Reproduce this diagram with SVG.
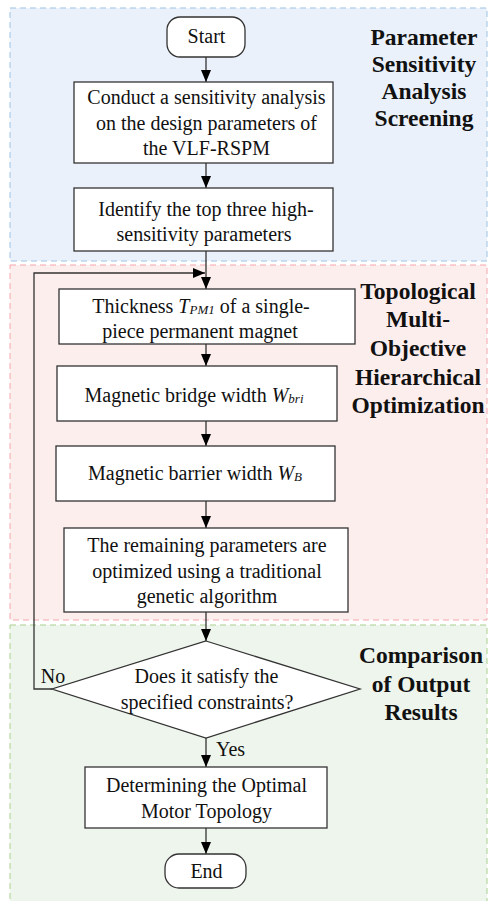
<svg xmlns="http://www.w3.org/2000/svg" width="489" height="901" viewBox="0 0 489 901">
<defs>
<style>
.t{font-family:'Liberation Serif','DejaVu Serif',serif;font-size:20px;fill:#111;text-anchor:middle}
.h{font-family:'Liberation Serif','DejaVu Serif',serif;font-size:23.5px;font-weight:bold;fill:#111;text-anchor:middle}
.box{fill:#fff;stroke:#333;stroke-width:1.3}
.c{fill:none;stroke:#333;stroke-width:1.3}
.i{font-style:italic}
.s{font-style:italic;font-size:13px}
</style>
<marker id="ah" markerWidth="12" markerHeight="10" refX="12" refY="5" orient="auto" markerUnits="userSpaceOnUse">
<path d="M0,0 L12,5 L0,10 Z" fill="#000"/>
</marker>
</defs>
<g id="panels">
<rect x="10" y="8" width="477" height="253" fill="#eaf1fa" stroke="#9dc3e6" stroke-width="1" stroke-dasharray="6,4"/>
<rect x="10" y="265" width="477" height="355" fill="#fdeeee" stroke="#f4a6ae" stroke-width="1" stroke-dasharray="6,4"/>
<rect x="10" y="625" width="477" height="285" fill="#eef5ec" stroke="#a9d18e" stroke-width="1" stroke-dasharray="6,4"/>
<text class="h" x="424" y="45">Parameter</text>
<text class="h" x="424" y="72">Sensitivity</text>
<text class="h" x="424" y="99">Analysis</text>
<text class="h" x="424" y="126">Screening</text>
<text class="h" x="418" y="299">Topological</text>
<text class="h" x="418" y="327">Multi-</text>
<text class="h" x="418" y="356">Objective</text>
<text class="h" x="418" y="385">Hierarchical</text>
<text class="h" x="418" y="413">Optimization</text>
<text class="h" x="421" y="663">Comparison</text>
<text class="h" x="421" y="692">of Output</text>
<text class="h" x="421" y="720">Results</text>
</g>
<g id="connectors">
<path class="c" d="M206 57 V82" marker-end="url(#ah)"/>
<path class="c" d="M206 163 V188" marker-end="url(#ah)"/>
<path class="c" d="M206 251 V289" marker-end="url(#ah)"/>
<path class="c" d="M206 344 V366" marker-end="url(#ah)"/>
<path class="c" d="M206 421 V446" marker-end="url(#ah)"/>
<path class="c" d="M206 501 V528" marker-end="url(#ah)"/>
<path class="c" d="M206 612 V641" marker-end="url(#ah)"/>
<path class="c" d="M206 738 V767" marker-end="url(#ah)"/>
<path class="c" d="M206 828 V854" marker-end="url(#ah)"/>
<path class="c" d="M52 689 H34 V273 H205" marker-end="url(#ah)"/>
<text class="t" x="53" y="683">No</text>
<text class="t" x="216" y="756" style="text-anchor:start">Yes</text>
</g>
<g id="start">
<rect class="box" x="167" y="17" width="78" height="40" rx="13"/>
<text class="t" x="206.5" y="43">Start</text>
</g>
<g id="sensitivity">
<rect class="box" x="74" y="82" width="259" height="81"/>
<text class="t" x="206.5" y="104">Conduct a sensitivity analysis</text>
<text class="t" x="206.5" y="130">on the design parameters of</text>
<text class="t" x="206.5" y="155">the VLF-RSPM</text>
</g>
<g id="identify">
<rect class="box" x="74" y="188" width="259" height="63"/>
<text class="t" x="206" y="216">Identify the top three high-</text>
<text class="t" x="204" y="241">sensitivity parameters</text>
</g>
<g id="thickness">
<rect class="box" x="59" y="289" width="296" height="55"/>
<text class="t" x="201" y="313">Thickness <tspan class="i">T</tspan><tspan class="s" dy="1">PM1</tspan><tspan dy="-1"> of a single-</tspan></text>
<text class="t" x="200" y="338">piece permanent magnet</text>
</g>
<g id="bridge">
<rect class="box" x="57" y="366" width="280" height="55"/>
<text class="t" x="194" y="402">Magnetic bridge width <tspan class="i">W</tspan><tspan class="s" dy="1">bri</tspan></text>
</g>
<g id="barrier">
<rect class="box" x="56" y="446" width="279" height="55"/>
<text class="t" x="195" y="480">Magnetic barrier width <tspan class="i">W</tspan><tspan class="s" dy="1">B</tspan></text>
</g>
<g id="remaining">
<rect class="box" x="64" y="528" width="284" height="84"/>
<text class="t" x="207" y="552">The remaining parameters are</text>
<text class="t" x="207" y="578">optimized using a traditional</text>
<text class="t" x="207" y="603">genetic algorithm</text>
</g>
<g id="decision">
<path class="box" d="M206 641 L360 689 L206 738 L52 689 Z"/>
<text class="t" x="206.5" y="683">Does it satisfy the</text>
<text class="t" x="207" y="709">specified constraints?</text>
</g>
<g id="optimal">
<rect class="box" x="85" y="767" width="242" height="61"/>
<text class="t" x="206.5" y="792">Determining the Optimal</text>
<text class="t" x="206.5" y="818">Motor Topology</text>
</g>
<g id="end">
<rect class="box" x="165" y="854" width="81" height="34" rx="14"/>
<text class="t" x="206.5" y="878">End</text>
</g>
</svg>
